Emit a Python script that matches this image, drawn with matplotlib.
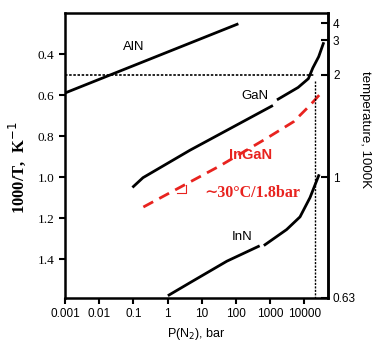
import matplotlib
matplotlib.use("Agg")
import matplotlib.pyplot as plt

# Data (x: P(N2) in bar, y: 1000/T in 1/K)
aln_p = [1e-3, 107]
aln_t = [0.59, 0.255]

gan_p1 = [0.1, 0.19, 4.5, 1100]
gan_t1 = [1.046, 1.003, 0.869, 0.654]
gan_p2 = [1700, 6500, 13000, 17500, 26000, 35500]
gan_t2 = [0.62, 0.563, 0.52, 0.468, 0.413, 0.349]

inn_p1 = [1.1, 4.5, 54, 450]
inn_t1 = [1.575, 1.515, 1.41, 1.338]
inn_p2 = [700, 3000, 7400, 14500, 26000]
inn_t2 = [1.33, 1.256, 1.194, 1.10, 0.993]

ingan_p = [0.195, 2.3, 34, 800, 4800, 14500, 35500]
ingan_t = [1.146, 1.05, 0.945, 0.81, 0.73, 0.65, 0.578]

x_ticks = [1e-3, 1e-2, 0.1, 1, 10, 100, 1000, 10000]
x_labels = ["0.001", "0.01", "0.1", "1", "10", "100", "1000", "10000"]
y_ticks = [0.4, 0.6, 0.8, 1.0, 1.2, 1.4]
temp_ticks = [4, 3, 2, 1, 0.63]
temp_labels = ["4", "3", "2", "1", "0.63"]

p_crit = 2e4
t_crit = 0.5

fig = plt.figure(figsize=(3.78, 3.47), dpi=100)
ax = fig.add_axes([0.172, 0.141, 0.696, 0.8215])

lw = 2.0
ax.plot(aln_p, aln_t, color="black", lw=lw)
ax.plot(gan_p1, gan_t1, color="black", lw=lw)
ax.plot(gan_p2, gan_t2, color="black", lw=lw)
ax.plot(inn_p1, inn_t1, color="black", lw=lw)
ax.plot(inn_p2, inn_t2, color="black", lw=lw)
ax.plot(ingan_p, ingan_t, color="#e8231f", lw=2.0, ls=(0, (4, 2.5)))

# dotted guide lines
ax.plot([1e-3, p_crit], [t_crit, t_crit], color="black", lw=1.2, ls=(0, (1.5, 1)))
ax.plot([p_crit, p_crit], [t_crit + 0.03, 1.6], color="black", lw=1.0, ls=(0, (1.5, 1)))

# slope mark
ax.plot([1.9, 3.5, 3.5], [1.08, 1.08, 1.04], color="#e8231f", lw=0.8)

ax.set_xscale("log")
ax.set_xlim(1e-3, 4.9e4)
ax.set_ylim(1.59, 0.2)

ax.set_xticks(x_ticks)
ax.set_xticklabels(x_labels)
ax.minorticks_off()
ax.set_yticks(y_ticks)
ax.set_yticklabels([f"{v:.1f}" for v in y_ticks])
ax.tick_params(axis="both", direction="out", length=4, width=1.5, labelsize=8.5)
ax.tick_params(axis="y", labelsize=9.5)
for lab in ax.get_xticklabels():
    lab.set_family("Liberation Sans")
for lab in ax.get_yticklabels():
    lab.set_family("Liberation Serif")
for sp in ax.spines.values():
    sp.set_linewidth(1.8)

sec = ax.secondary_yaxis("right", functions=(lambda v: 1 / v, lambda v: 1 / v))
sec.set_yticks(temp_ticks)
sec.set_yticklabels(temp_labels)
sec.minorticks_off()
sec.tick_params(direction="in", length=5, width=1.5, labelsize=8.5)
for lab in sec.get_yticklabels():
    lab.set_family("Liberation Sans")
sec.spines["right"].set_linewidth(1.8)

ax.set_xlabel("P(N$_2$), bar", fontsize=9, family="Liberation Sans", labelpad=4)
ax.text(-0.18, 0.456, "1000/T,  K$^{-1}$", transform=ax.transAxes, rotation=90,
        ha="center", va="center", fontsize=12, family="Liberation Serif",
        fontweight="bold")
ax.text(1.14, 0.59, "temperature, 1000K", transform=ax.transAxes, rotation=-90,
        ha="center", va="center", fontsize=9.5, family="Liberation Sans")

ax.text(0.1, 0.367, "AlN", ha="center", va="center", fontsize=9.5, family="Liberation Sans")
ax.text(360, 0.606, "GaN", ha="center", va="center", fontsize=9.5, family="Liberation Sans")
ax.text(150, 1.29, "InN", ha="center", va="center", fontsize=9.5, family="Liberation Sans")
ax.text(260, 0.893, "InGaN", ha="center", va="center", fontsize=10.5, color="#e8231f",
        family="Liberation Sans", fontweight="bold")
ax.text(300, 1.08, "\u223c30\u00b0C/1.8bar", ha="center", va="center", fontsize=11.5,
        color="#e8231f", family=["Liberation Serif", "DejaVu Serif"], fontweight="bold")

fig.savefig("out.png", dpi=100)
